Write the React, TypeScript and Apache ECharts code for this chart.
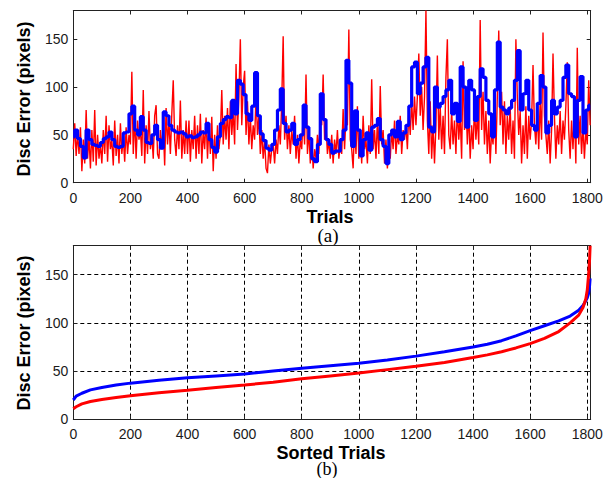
import React, { useEffect, useRef } from "react";
import * as echarts from "echarts";

// ---------- data ----------
const X_MAX = 1812;
const Y_MAX = 180;
const X_INTERVAL = 200;
const Y_INTERVAL = 50;

// (a) raw disc error per trial, red sampled every 5 trials, blue every 10 trials
const RED_STEP = 5;
const redTrials: number[] = [
  35, 62, 28, 52, 30, 58, 12, 45, 20, 76, 25, 48, 15, 55, 22, 76, 18, 50, 25, 40,
  20, 55, 30, 70, 22, 60, 35, 45, 18, 65, 28, 50, 20, 62, 30, 48, 22, 58, 30, 50,
  40, 116, 30, 70, 25, 65, 45, 55, 28, 97, 20, 60, 30, 75, 35, 50, 25, 70, 81, 30,
  25, 55, 35, 60, 18, 78, 40, 65, 30, 72, 107, 45, 28, 60, 35, 86, 25, 55, 30, 65,
  30, 65, 22, 55, 35, 70, 25, 60, 30, 72, 20, 55, 35, 68, 25, 60, 30, 69, 12, 50,
  25, 60, 35, 50, 97, 40, 70, 45, 78, 35, 85, 50, 75, 40, 124, 55, 90, 150, 60, 100,
  117, 50, 85, 40, 70, 35, 60, 45, 93, 50, 70, 30, 55, 25, 45, 15, 10, 40, 20, 35,
  40, 20, 45, 30, 60, 40, 85, 153, 45, 70, 35, 60, 30, 55, 40, 70, 25, 50, 20, 45,
  35, 70, 40, 113, 30, 55, 20, 45, 15, 35, 25, 50, 30, 75, 60, 113, 45, 60, 30, 45,
  25, 50, 20, 45, 30, 55, 25, 40, 30, 77, 35, 70, 60, 160, 45, 35, 15, 60, 30, 80,
  25, 55, 20, 70, 35, 45, 20, 60, 30, 108, 35, 55, 25, 65, 30, 101, 40, 55, 20, 45,
  15, 40, 25, 55, 35, 65, 30, 50, 40, 70, 30, 55, 45, 60, 35, 75, 50, 85, 55, 90,
  60, 90, 135, 70, 100, 55, 90, 180, 65, 30, 85, 25, 60, 20, 60, 133, 45, 80, 35, 70,
  30, 110, 150, 50, 35, 75, 40, 65, 30, 80, 45, 70, 25, 127, 55, 90, 40, 75, 25, 60,
  35, 80, 45, 70, 40, 170, 55, 95, 40, 75, 30, 65, 20, 55, 40, 80, 30, 90, 159, 60,
  95, 40, 85, 30, 70, 45, 80, 30, 65, 25, 150, 90, 50, 75, 20, 60, 30, 80, 25, 70,
  45, 65, 123, 60, 40, 75, 35, 85, 45, 157, 70, 50, 30, 65, 20, 55, 135, 70, 25, 60,
  40, 75, 30, 65, 45, 80, 126, 55, 25, 65, 35, 75, 20, 141, 40, 70, 30, 60, 25, 55,
  40, 107, 60,
];

const BLUE_STEP = 10;
const blueTrials: number[] = [
  48, 55, 46, 38, 26, 55, 45, 40, 39, 38,
  42, 46, 48, 53, 45, 38, 37, 38, 52, 53,
  72, 80, 55, 50, 69, 55, 42, 41, 50, 60,
  45, 36, 74, 70, 60, 55, 53, 52, 53, 51,
  48, 49, 47, 48, 50, 53, 52, 62, 45, 37,
  32, 48, 62, 66, 69, 68, 86, 72, 107, 103,
  92, 72, 65, 80, 115, 70, 51, 44, 36, 34,
  40, 55, 76, 98, 62, 53, 55, 62, 40, 45,
  50, 81, 58, 46, 25, 22, 40, 93, 66, 45,
  40, 31, 33, 33, 45, 55, 128, 104, 38, 75,
  55, 28, 45, 52, 34, 58, 60, 67, 45, 38,
  20, 50, 55, 48, 64, 45, 52, 60, 80, 121,
  126, 93, 104, 121, 131, 58, 53, 100, 79, 83,
  90, 97, 107, 72, 83, 64, 121, 100, 58, 107,
  97, 65, 90, 119, 110, 86, 72, 48, 97, 147,
  79, 76, 72, 78, 86, 107, 138, 76, 93, 107,
  76, 60, 55, 83, 112, 100, 52, 60, 86, 72,
  79, 86, 110, 123, 93, 90, 48, 86, 111, 52,
  76, 81,
];

// (b) sorted trials
const sortedIndex: number[] = [
  0, 10, 30, 60, 100, 150, 200, 300, 400, 500, 600, 700, 800, 900, 1000, 1100,
  1200, 1300, 1400, 1450, 1500, 1550, 1600, 1650, 1700, 1740, 1770, 1785, 1795, 1800,
  1805, 1808, 1810,
];
const sortedBlue: number[] = [
  20, 24, 27, 30.5, 33, 35.5, 37.5, 40.5, 43, 45, 47, 50, 53, 55.5, 58, 61.5,
  65.5, 70, 75, 77.8, 81.5, 86.5, 92, 97, 102, 107, 113, 118, 123, 126, 131, 138, 146,
];
const sortedRed: number[] = [
  11, 13, 16, 18.5, 20.5, 22.5, 24.5, 27.5, 30, 33, 35.5, 38.5, 42, 45, 48, 51.5,
  55, 59, 64, 66.8, 70, 74, 78.5, 84, 91, 100, 108, 116, 125, 134, 151, 165, 180,
];

const yAxisTitle = "Disc Error (pixels)";
const xTitleA = "Trials";
const xTitleB = "Sorted Trials";
const captionA = "(a)";
const captionB = "(b)";

// ---------- styles ----------
const SANS = '"Liberation Sans", Arial, sans-serif';
const SERIF = '"Liberation Serif", "Times New Roman", serif';
const FRAME = "#222";
const LABEL_COLOR = "#1a1a1a";

function xAxis(gridIndex: number, position: "bottom" | "top", main: boolean, grid: boolean) {
  return {
    type: "value",
    gridIndex,
    position,
    min: 0,
    max: X_MAX,
    interval: X_INTERVAL,
    axisLine: { show: true, onZero: false, lineStyle: { color: FRAME, width: 1 } },
    axisTick: { show: true, inside: true, length: 4, lineStyle: { color: FRAME, width: 1 } },
    axisLabel: {
      show: main,
      showMaxLabel: false,
      fontSize: 14,
      fontFamily: SANS,
      color: LABEL_COLOR,
      margin: 8,
      formatter: (v: number) => (v % X_INTERVAL === 0 ? String(v) : ""),
    },
    splitLine: { show: grid, lineStyle: { color: "#000", width: 1, type: [4, 3] } },
  };
}

function yAxis(gridIndex: number, position: "left" | "right", main: boolean, grid: boolean) {
  return {
    type: "value",
    gridIndex,
    position,
    min: 0,
    max: Y_MAX,
    interval: Y_INTERVAL,
    axisLine: { show: true, onZero: false, lineStyle: { color: FRAME, width: 1 } },
    axisTick: { show: true, inside: true, length: 4, lineStyle: { color: FRAME, width: 1 } },
    axisLabel: {
      show: main,
      showMaxLabel: false,
      fontSize: 14,
      fontFamily: SANS,
      color: LABEL_COLOR,
      margin: 5,
      formatter: (v: number) => (v % Y_INTERVAL === 0 ? String(v) : ""),
    },
    splitLine: { show: grid, lineStyle: { color: "#000", width: 1, type: [4, 3] } },
  };
}

export default function App() {
  const ref = useRef<HTMLDivElement>(null);

  useEffect(() => {
    if (!ref.current) return;
    const chart = echarts.init(ref.current, undefined, { renderer: "svg" });
    const option = {
      animation: false,
      backgroundColor: "#fff",
      textStyle: { fontFamily: SANS },
      grid: [
        { left: 73.3, top: 10.5, width: 517.4, height: 172.2 },
        { left: 73.3, top: 245.7, width: 517.4, height: 173.6 },
      ],
      xAxis: [
        xAxis(0, "bottom", true, false),
        xAxis(0, "top", false, false),
        xAxis(1, "bottom", true, true),
        xAxis(1, "top", false, false),
      ],
      yAxis: [
        yAxis(0, "left", true, false),
        yAxis(0, "right", false, false),
        yAxis(1, "left", true, true),
        yAxis(1, "right", false, false),
      ],
      series: [
        {
          type: "line",
          xAxisIndex: 0,
          yAxisIndex: 0,
          data: redTrials.map((v, i) => [i * RED_STEP, v]),
          symbol: "none",
          lineStyle: { color: "#ff0000", width: 1.4 },
          z: 2,
        },
        {
          type: "line",
          xAxisIndex: 0,
          yAxisIndex: 0,
          data: blueTrials.map((v, i) => [i * BLUE_STEP, v]),
          symbol: "none",
          step: "middle",
          lineStyle: { color: "#0000ff", width: 3.2 },
          z: 3,
        },
        {
          type: "line",
          xAxisIndex: 2,
          yAxisIndex: 2,
          data: sortedIndex.map((t, i) => [t, sortedRed[i]]),
          symbol: "none",
          lineStyle: { color: "#ff0000", width: 3 },
          z: 3,
        },
        {
          type: "line",
          xAxisIndex: 2,
          yAxisIndex: 2,
          data: sortedIndex.map((t, i) => [t, sortedBlue[i]]),
          symbol: "none",
          lineStyle: { color: "#0000ff", width: 3 },
          z: 2,
        },
      ],
      graphic: [
        {
          type: "text",
          x: 24,
          y: 99,
          rotation: Math.PI / 2,
          style: { text: yAxisTitle, font: `bold 18px ${SANS}`, fill: "#000", textAlign: "center", textVerticalAlign: "middle" },
        },
        {
          type: "text",
          x: 24,
          y: 333,
          rotation: Math.PI / 2,
          style: { text: yAxisTitle, font: `bold 18px ${SANS}`, fill: "#000", textAlign: "center", textVerticalAlign: "middle" },
        },
        {
          type: "text",
          x: 330,
          y: 217,
          style: { text: xTitleA, font: `bold 18px ${SANS}`, fill: "#000", textAlign: "center", textVerticalAlign: "middle" },
        },
        {
          type: "text",
          x: 328,
          y: 235.5,
          style: { text: captionA, font: `19px ${SERIF}`, fill: "#000", textAlign: "center", textVerticalAlign: "middle" },
        },
        {
          type: "text",
          x: 331,
          y: 452.5,
          style: { text: xTitleB, font: `bold 18px ${SANS}`, fill: "#000", textAlign: "center", textVerticalAlign: "middle" },
        },
        {
          type: "text",
          x: 327,
          y: 469,
          style: { text: captionB, font: `18px ${SERIF}`, fill: "#000", textAlign: "center", textVerticalAlign: "middle" },
        },
      ],
    };
    chart.setOption(option as any);
    return () => chart.dispose();
  }, []);

  return (
    <div
      ref={ref}
      style={{ position: "fixed", left: 0, top: 0, width: 609, height: 478, background: "#fff" }}
    />
  );
}
